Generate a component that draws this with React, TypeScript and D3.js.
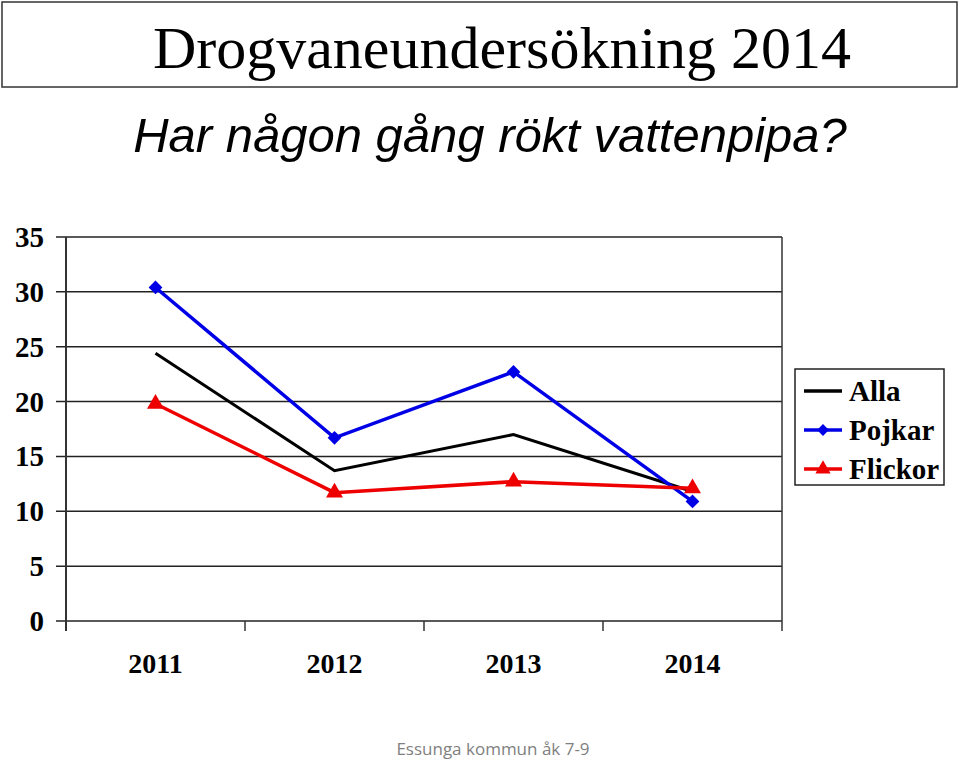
import React from 'react';
import * as d3 from 'd3';

const years = ['2011', '2012', '2013', '2014'];
const alla = [24.4, 13.7, 17.0, 11.8];
const pojkar = [30.4, 16.7, 22.7, 10.9];
const flickor = [19.8, 11.7, 12.7, 12.1];
const yTicks = [0, 5, 10, 15, 20, 25, 30, 35];

const series = [
  { name: 'Alla', values: alla, color: '#000000', marker: 'none', width: 3 },
  { name: 'Pojkar', values: pojkar, color: '#0000e6', marker: 'diamond', width: 3.5 },
  { name: 'Flickor', values: flickor, color: '#ee0000', marker: 'triangle', width: 3.5 },
];

const serif = '"Liberation Serif", "Times New Roman", serif';
const sans = '"Liberation Sans", Arial, sans-serif';

const App: React.FC = () => {
  const left = 66;
  const right = 782;
  const top = 237;
  const bottom = 621;

  const x = d3.scaleBand<string>().domain(years).range([left, right]);
  const y = d3.scaleLinear().domain([0, 35]).range([bottom, top]);
  const cx = (yr: string) => x(yr)! + x.bandwidth() / 2;

  const line = d3
    .line<number>()
    .x((_, i) => cx(years[i]))
    .y((d) => y(d));

  // diamond = square turned 45deg, like the office chart marker
  const square = d3.symbol().type(d3.symbolSquare).size(95)()!;
  const triangle = d3.symbol().type(d3.symbolTriangle).size(125)()!;
  const smallSquare = d3.symbol().type(d3.symbolSquare).size(70)()!;
  const smallTriangle = d3.symbol().type(d3.symbolTriangle).size(100)()!;

  const markerPath = (m: string, big: boolean) =>
    m === 'diamond' ? (big ? square : smallSquare) : big ? triangle : smallTriangle;
  const markerRot = (m: string) => (m === 'diamond' ? ' rotate(45)' : '');

  return (
    <svg width={960} height={760} style={{ position: 'absolute', left: 0, top: 0, background: '#fff' }}>
      <rect x={2} y={2} width={955} height={85} fill="#fff" stroke="#333" strokeWidth={1.5} />
      <text x={502} y={68} textAnchor="middle" fontFamily={serif} fontSize={60} fill="#000">
        Drogvaneundersökning 2014
      </text>
      <text x={490} y={152} textAnchor="middle" fontFamily={sans} fontStyle="italic" fontSize={49} fill="#000">
        Har någon gång rökt vattenpipa?
      </text>

      {/* gridlines */}
      {yTicks.map((t) => (
        <line key={t} x1={56} x2={right} y1={y(t)} y2={y(t)} stroke="#222" strokeWidth={1.5} />
      ))}
      <line x1={left} x2={left} y1={top} y2={bottom + 10} stroke="#333" strokeWidth={2} />
      <line x1={right} x2={right} y1={top} y2={bottom + 10} stroke="#333" strokeWidth={1.5} />
      {years.map((yr) => (
        <line key={yr} x1={x(yr)!} x2={x(yr)!} y1={bottom} y2={bottom + 10} stroke="#333" strokeWidth={1.5} />
      ))}

      {yTicks.map((t) => (
        <text key={t} x={44} y={y(t) + 10} textAnchor="end" fontFamily={serif} fontWeight="bold" fontSize={29} fill="#000">
          {t}
        </text>
      ))}
      {years.map((yr) => (
        <text key={yr} x={cx(yr)} y={673} textAnchor="middle" fontFamily={serif} fontWeight="bold" fontSize={28} fill="#000">
          {yr}
        </text>
      ))}

      {series.map((s) => (
        <g key={s.name}>
          <path d={line(s.values)!} fill="none" stroke={s.color} strokeWidth={s.width} />
          {s.marker !== 'none' &&
            s.values.map((v, i) => (
              <path
                key={i}
                d={markerPath(s.marker, true)}
                transform={`translate(${cx(years[i])},${y(v)})${markerRot(s.marker)}`}
                fill={s.color}
              />
            ))}
        </g>
      ))}

      {/* legend */}
      <rect x={795} y={369} width={149} height={116} fill="#fff" stroke="#222" strokeWidth={1.5} />
      {series.map((s, i) => {
        const ly = 391 + i * 39;
        return (
          <g key={s.name}>
            <line x1={804} x2={842} y1={ly} y2={ly} stroke={s.color} strokeWidth={3.5} />
            {s.marker !== 'none' && (
              <path d={markerPath(s.marker, false)} transform={`translate(823,${ly})${markerRot(s.marker)}`} fill={s.color} />
            )}
            <text x={849} y={ly + 10} fontFamily={serif} fontWeight="bold" fontSize={29} fill="#000">
              {s.name}
            </text>
          </g>
        );
      })}

      <text x={493} y={755} textAnchor="middle" fontFamily='"Open Sans", sans-serif' fontSize={17} fill="#7f7f7f">
        Essunga kommun åk 7-9
      </text>
    </svg>
  );
};

export default App;
